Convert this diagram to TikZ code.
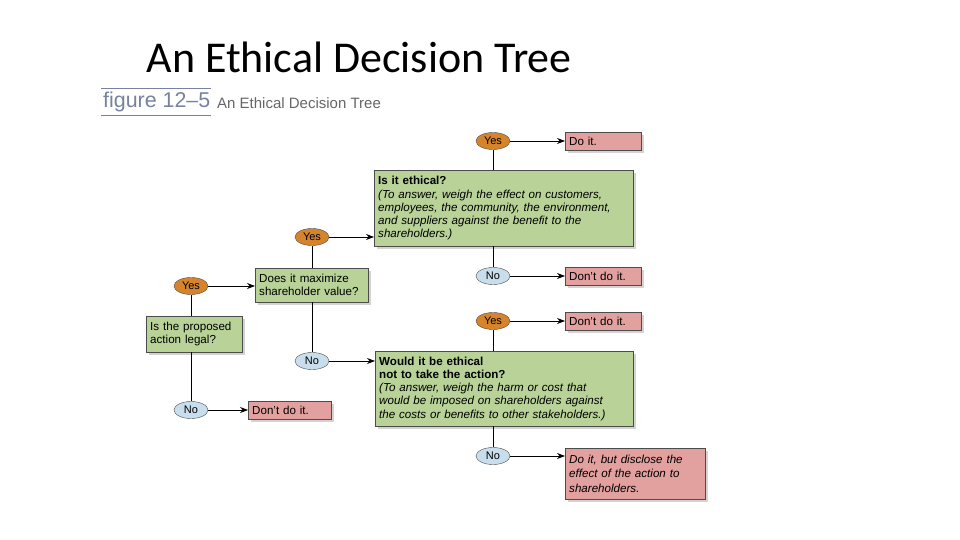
\documentclass[tikz,border=0pt]{standalone}
\usepackage{fontspec}
\setmainfont{Liberation Sans}
\newfontfamily\titlefont{Carlito}
\usetikzlibrary{shadows,arrows.meta,shapes.geometric}
\definecolor{boxgreen}{RGB}{184,210,152}
\definecolor{boxpink}{RGB}{226,160,158}
\definecolor{ovorange}{RGB}{214,132,44}
\definecolor{ovblue}{RGB}{200,222,236}
\definecolor{figblue}{RGB}{120,130,160}
\tikzset{
 qbox/.style={draw=black!70,fill=boxgreen,drop shadow={opacity=0.35},align=left,anchor=north west,inner sep=4pt,font=\fontsize{11.6}{13.2}\selectfont},
 abox/.style={draw=black!70,fill=boxpink,drop shadow={opacity=0.35},align=left,anchor=north west,inner sep=4pt,font=\fontsize{11.6}{14.5}\selectfont},
 yes/.style={ellipse,draw=black!70,fill=ovorange,minimum width=34pt,minimum height=17pt,inner sep=0pt,font=\fontsize{11}{12}\selectfont},
 no/.style={ellipse,draw=black!70,fill=ovblue,minimum width=34pt,minimum height=17pt,inner sep=0pt,font=\fontsize{11}{12}\selectfont},
 arr/.style={-{Stealth[length=8pt]},thick},
 ln/.style={thick}
}
\begin{document}
\begin{tikzpicture}[x=1pt,y=-1pt]
\useasboundingbox (0,0) rectangle (960,540);
\node[anchor=west,font=\titlefont\fontsize{44}{48}\selectfont] (title) at (143,57) {An Ethical Decision Tree};
\draw[figblue] (101,88) -- (211,88);
\draw[figblue] (101,115) -- (211,115);
\node[anchor=west,inner sep=0pt,text=figblue,font=\fontsize{21.4}{22}\selectfont] (fig) at (103,102) {figure 12--5};
\node[anchor=west,inner sep=0pt,text=black!60,font=\fontsize{15}{16}\selectfont] (figt) at (217,103) {An Ethical Decision Tree};

\node[qbox,text width=251pt,minimum height=76pt] (eth) at (374,170) {\textbf{Is it ethical?}\\\textit{(To answer, weigh the effect on customers,}\\\textit{employees, the community, the environment,}\\\textit{and suppliers against the benefit to the}\\\textit{shareholders.)}};
\node[qbox,text width=105pt,minimum height=34pt] (max) at (255,268) {Does it maximize\\shareholder value?};
\node[qbox,text width=88pt,minimum height=36pt] (leg) at (146,316) {Is the proposed\\action legal?};
\node[qbox,text width=250pt,minimum height=75pt] (eth2) at (375,351) {\textbf{Would it be ethical}\\\textbf{not to take the action?}\\\textit{(To answer, weigh the harm or cost that}\\\textit{would be imposed on shareholders against}\\\textit{the costs or benefits to other stakeholders.)}};
\node[abox,text width=68pt,minimum height=18pt] (doit) at (565,132) {Do it.};
\node[abox,text width=68pt,minimum height=18pt] (dont1) at (565,267) {Don't do it.};
\node[abox,text width=68pt,minimum height=18pt] (dont2) at (565,312) {Don't do it.};
\node[abox,text width=75pt,minimum height=18pt] (dont0) at (248,401) {Don't do it.};
\node[abox,text width=132pt,minimum height=51pt] (disc) at (565,448) {\textit{Do it, but disclose the}\\\textit{effect of the action to}\\\textit{shareholders.}};

\node[yes] (y1) at (493,141) {Yes};
\node[no] (n1) at (493,276) {No};
\node[yes] (y2) at (312,237) {Yes};
\node[no] (n2) at (312,361) {No};
\node[yes] (y3) at (493,321) {Yes};
\node[no] (n3) at (493,456) {No};
\node[yes] (y0) at (191,286) {Yes};
\node[no] (n0) at (191,410) {No};

\draw[ln] (y1) -- (y1 |- eth.north);
\draw[ln] (n1) -- (n1 |- eth.south);
\draw[ln] (y3) -- (y3 |- eth2.north);
\draw[ln] (n3) -- (n3 |- eth2.south);
\draw[ln] (y2) -- (y2 |- max.north);
\draw[ln] (n2) -- (n2 |- max.south);
\draw[ln] (y0) -- (y0 |- leg.north);
\draw[ln] (n0) -- (n0 |- leg.south);
\draw[arr] (y1) -- (y1 -| doit.west);
\draw[arr] (n1) -- (n1 -| dont1.west);
\draw[arr] (y3) -- (y3 -| dont2.west);
\draw[arr] (n3) -- (n3 -| disc.west);
\draw[arr] (y2) -- (y2 -| eth.west);
\draw[arr] (n2) -- (n2 -| eth2.west);
\draw[arr] (y0) -- (y0 -| max.west);
\draw[arr] (n0) -- (n0 -| dont0.west);
\end{tikzpicture}
\end{document}
